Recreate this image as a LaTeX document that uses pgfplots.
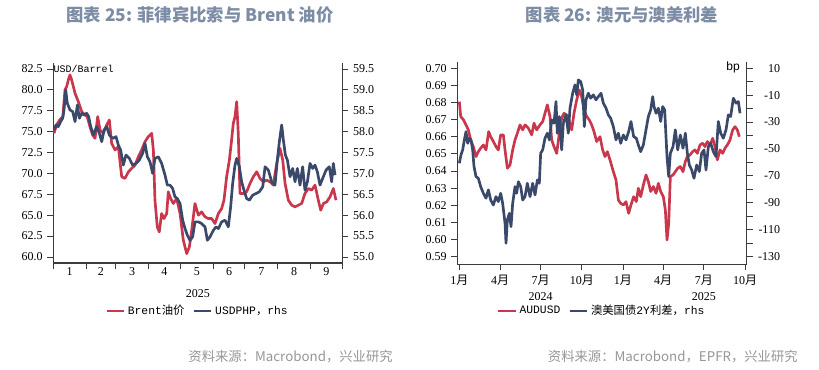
\documentclass[border=0pt]{standalone}
\usepackage{fontspec}
\setmainfont{Liberation Serif}
\newfontfamily\cjk{Noto Sans CJK SC}
\newfontfamily\mono{Liberation Mono}
\newfontfamily\sans{Liberation Sans}
\usepackage{pgfplots}
\usepackage{pgfplotstable}
\pgfplotsset{compat=1.18}
\definecolor{cred}{RGB}{200,55,75}
\definecolor{cnavy}{RGB}{58,72,106}
\definecolor{ctitle}{RGB}{125,140,165}
\definecolor{csrc}{RGB}{150,150,150}
\definecolor{caxis}{RGB}{60,60,60}

\pgfplotstableread{
day val
0.6 74.8
3 75.8
6 76.4
9 76.8
11 80
12.6 80.4
14.2 81.2
15.7 81.8
17.3 81.2
20.5 79.6
23.6 78.6
26.8 77.4
29.9 77.0
32 76.8
34.6 75.6
37.2 74.6
39.4 74.2
41.9 76.8
44.1 75.2
47.2 74.8
50.4 75.8
52.9 76.4
55.1 73.6
58.3 72.8
61.4 73.2
64.6 69.6
67.7 69.4
70.9 70.2
74 70.6
77.2 71.0
80.3 72.0
83.4 72.8
86.6 73.8
89.7 74.4
92.9 74.8
94.5 72.8
96 66.8
98.2 63.6
100.1 63.0
102.3 65.2
104.5 64.6
107.1 65.2
108.6 67.8
110.8 67.0
113.4 66.4
116.5 67.0
119.7 65.2
122.8 62.0
126 60.4
128.5 61.2
130.7 63.2
133.8 66.4
137 65.0
140.1 65.4
143.3 64.8
146.4 64.6
149.6 64.6
152.7 64.0
155.9 65.2
159 65.8
161.2 66.8
163.7 69.6
166.3 71.6
168.4 74.0
170 76.0
171.6 76.8
173.2 78.6
174.7 74.8
176.3 67.6
179.5 67.6
182.6 67.8
185.8 68.8
188.9 69.6
192.1 70.2
195.2 69.4
198.4 69.0
201.5 69.2
204.7 69.0
207.8 68.6
211 71.2
214.1 73.0
216.7 71.6
218.9 68.8
222 66.8
225.2 66.2
228.3 66.0
231.5 66.2
234.6 66.4
237.7 67.6
240.9 68.2
244 68.0
247.2 68.6
250.3 66.8
252.6 65.6
255.1 66.4
258.2 66.6
261.4 67.2
264.5 68.2
267 66.8
}\brent

\pgfplotstableread{
day val
0.6 58.04
2.5 58.16
4.7 58.12
6.9 58.24
8.8 58.32
10.1 58.52
11.7 59.0
13.2 58.68
15.7 58.52
18.3 58.48
20.5 58.24
22.7 58.64
24.6 58.32
26.8 58.44
29 58.40
31.5 58.44
33.4 58.36
35.3 58.12
37.8 57.92
40.9 58.12
43.5 57.96
45.7 57.76
47.9 58.04
50.4 58.12
52.9 57.92
56.1 57.84
59.2 57.88
61.4 57.68
63.6 57.56
66.1 57.20
68.6 57.44
71.8 57.36
74.9 57.20
78.1 57.24
81.2 57.32
84.4 57.48
86.6 57.72
88.8 57.40
91.3 57.28
93.8 57.00
96 57.36
99.2 57.40
102.3 57.24
105.5 56.96
107.7 56.72
110.2 56.72
112.7 56.64
114.9 56.44
117.1 56.40
119.7 56.28
122.2 55.88
124.4 55.68
126.6 55.52
129.1 55.40
131.6 55.48
133.8 55.84
137 55.84
140.1 55.80
143.3 55.72
145.5 55.40
148 55.48
151.2 55.64
153.7 55.72
155.9 55.68
159 55.84
162.2 55.88
165.3 55.72
167.5 56.20
169.4 56.76
171.6 57.20
173.2 57.36
175.7 57.16
177.9 56.80
180.1 56.60
182.6 56.40
185.2 56.36
188.3 56.48
191.5 56.52
194.6 56.56
197.8 56.68
200 57.16
203.1 57.08
206.3 56.80
209.4 56.72
211.6 57.32
213.5 57.76
215.7 58.16
217.3 57.80
219.2 57.44
221.1 57.32
223.6 56.92
226.1 57.12
228.3 56.80
230.5 57.12
233 56.72
235.5 57.16
237.7 56.60
240 56.80
242.5 57.24
245 57.12
247.2 57.20
249.4 57.04
251.9 56.72
254.4 56.88
257.6 57.08
260.7 57.16
262.9 56.80
264.5 57.24
266.1 56.96
}\usdphp

\pgfplotstableread{
day val
0 0.6805
3 0.6718
8.9 0.6700
14.9 0.6669
20.1 0.6640
25.4 0.6581
31.3 0.6542
37.3 0.6484
42.5 0.6513
47.7 0.6533
53.7 0.6552
59.6 0.6523
65.6 0.6630
70.1 0.6600
76.1 0.6572
82 0.6542
87.2 0.6523
92.5 0.6611
98.4 0.6611
102.2 0.6523
107.4 0.6416
113.3 0.6435
119.3 0.6523
124.5 0.6581
129.7 0.6620
135.7 0.6669
141.7 0.6640
146.9 0.6669
154.3 0.6650
161.8 0.6611
167 0.6679
173 0.6640
180.4 0.6669
186.4 0.6688
191.6 0.6737
196.8 0.6786
202.8 0.6718
206.5 0.6581
211.8 0.6542
217.7 0.6503
223.7 0.6620
228.9 0.6708
234.1 0.6737
240.1 0.6727
246 0.6688
251.3 0.6640
256.5 0.6737
262.5 0.6815
268.4 0.6873
273.6 0.6834
278.9 0.6757
284.8 0.6718
290.8 0.6698
296 0.6669
301.2 0.6630
307.2 0.6572
314.6 0.6600
320.6 0.6523
325.8 0.6484
331 0.6513
337 0.6465
344.5 0.6396
350.4 0.6348
355.7 0.6231
360.9 0.6211
366.8 0.6202
372.8 0.6221
378.7 0.6153
383.9 0.6202
389.9 0.6250
395.8 0.6221
400.4 0.6299
405.6 0.6250
411.6 0.6318
417.5 0.6377
422.8 0.6338
428 0.6280
434 0.6309
440 0.6270
445.2 0.6328
450.4 0.6280
456.3 0.6250
460.8 0.6172
464.5 0.5997
468.3 0.6095
472 0.6367
478 0.6377
483.1 0.6396
488.4 0.6416
494.3 0.6426
500.3 0.6396
505.5 0.6455
510 0.6484
516 0.6494
521.9 0.6513
527.1 0.6523
532.4 0.6503
538.3 0.6552
544.3 0.6562
549.5 0.6542
554.7 0.6572
560.7 0.6552
566.7 0.6591
571.9 0.6542
577.1 0.6465
583.1 0.6523
589 0.6503
594.2 0.6533
599.5 0.6552
605.4 0.6581
611.4 0.6640
616.6 0.6659
621.8 0.6640
626.3 0.6600
}\audusd

\pgfplotstableread{
day val
0 -60.6
3.7 -54.4
7.5 -50.7
11.2 -43.3
14.9 -37.1
18.6 -45.8
22.4 -42.0
26.1 -43.3
29.8 -50.7
32.8 -63.1
37.3 -70.5
42.5 -71.8
47.7 -78.0
53.7 -82.9
59.6 -86.6
64.9 -80.4
70.1 -87.9
76.1 -91.6
82 -85.4
87.2 -89.1
92.5 -82.9
96.9 -90.4
102.2 -105.2
104.4 -120.1
107.4 -102.7
111.8 -97.8
115.6 -107.7
119.3 -90.4
124.5 -78.0
128.2 -82.9
132 -74.3
137.2 -78.0
141.7 -87.9
146.9 -85.4
152.1 -75.5
158.1 -85.4
164 -75.5
169.3 -84.2
174.5 -73.0
178.9 -75.5
181.9 -53.2
186.4 -50.7
191.6 -42.0
196.8 -38.3
201.3 -43.3
206.5 -28.4
211.8 -30.9
216.2 -14.8
219.2 -38.3
223.7 -25.9
228.9 -50.7
232.6 -30.9
238.6 -24.7
243.8 -38.3
247.5 -19.7
253.5 -8.6
258.7 -2.4
262.5 -9.8
266.2 1.3
271.4 0.1
275.9 -6.1
279.6 -33.4
283.3 -13.5
288.5 -8.6
293.8 -12.3
299.7 -9.8
305.7 -13.5
310.9 -11.1
316.9 -8.6
322.1 -16.0
328.1 -19.7
333.3 -24.7
338.5 -27.2
344.5 -33.4
350.4 -43.3
355.7 -38.3
360.9 -45.8
366.8 -39.6
372.8 -43.3
378.7 -37.1
383.9 -29.6
389.9 -40.8
395.8 -42.0
400.4 -47.0
405.6 -52.0
411.6 -47.0
417.5 -35.8
422.8 -25.9
428 -21.0
432.5 -11.1
435.5 -18.5
440 -23.5
445.2 -19.7
450.4 -29.6
454.8 -18.5
459.3 -21.0
464.5 -55.7
468.3 -70.5
472 -53.2
478 -48.2
483.1 -35.8
488.4 -50.7
494.3 -39.6
500.3 -49.5
505.5 -38.3
510 -53.2
514.5 -61.9
519.7 -65.6
524.9 -71.8
530.9 -61.9
536.8 -66.8
542 -53.2
547.3 -50.7
551.7 -65.6
557 -48.2
562.2 -45.8
568.1 -52.0
574.1 -55.7
579.3 -29.6
584.6 -38.3
590.5 -42.0
596.5 -35.8
601.7 -24.7
606.9 -25.9
612.9 -12.3
618.8 -16.0
624.1 -14.8
627.8 -23.5
}\spread

\pgfplotsset{
  base/.style={
    scale only axis,
    axis line style={caxis, line width=0.8pt},
    tick style={caxis, line width=0.7pt},
    tick align=outside,
    major tick length=4.5pt,
    minor tick length=4.5pt,
    ticklabel style={font=\fontsize{9}{12}\selectfont},
    label style={font=\fontsize{9}{12}\selectfont},
    /pgf/number format/assume math mode=true,
    legend style={draw=none, fill=none, legend columns=2,
      font=\fontsize{8.5}{10}\selectfont,
      /tikz/every even column/.append style={column sep=4pt}},
    legend image code/.code={\draw[#1, line width=2pt] (0pt,0pt) -- (13pt,0pt);},
  },
  ser/.style={line width=2pt, line join=round},
}

\begin{document}
\begin{tikzpicture}
\useasboundingbox (0,0) rectangle (614.25pt,277.5pt);

% titles
\node[font=\cjk\bfseries\fontsize{13}{14}\selectfont, text=ctitle] at (150pt,266.25pt) {图表 25: 菲律宾比索与 Brent 油价};
\node[font=\cjk\bfseries\fontsize{13}{14}\selectfont, text=ctitle] at (466.5pt,266.25pt) {图表 26: 澳元与澳美利差};
% sources
\node[anchor=east, font=\cjk\fontsize{10}{12}\selectfont, text=csrc, inner sep=0pt] at (294.75pt,9.75pt) {资料来源：Macrobond，兴业研究};
\node[anchor=east, font=\cjk\fontsize{10}{12}\selectfont, text=csrc, inner sep=0pt] at (598.5pt,9.75pt) {资料来源：Macrobond，EPFR，兴业研究};

% ---------- left chart ----------
\begin{axis}[base, at={(40pt,80.25pt)}, anchor=south west,
  width=216.75pt, height=150pt,
  xmin=0, xmax=273, ymin=59.28, ymax=83.22,
  axis x line*=bottom, axis y line*=left,
  xtick={0,31,59,90,120,151,181,212,243,273}, xticklabels={},
  extra x ticks={15.5,45,74.5,105,135.5,166,196.5,227.5,258},
  extra x tick labels={1,2,3,4,5,6,7,8,9},
  extra x tick style={major tick length=0pt},
  ytick={60,62.5,65,67.5,70,72.5,75,77.5,80,82.5},
  yticklabel style={/pgf/number format/.cd, fixed, fixed zerofill, precision=1},
  xlabel={2025}, xlabel style={yshift=1pt},
]
\addplot[ser, cred] table[x=day, y=val] {\brent};
\node[anchor=west, inner sep=0pt, font=\mono\fontsize{7.5}{8}\selectfont] at (rel axis cs:0,0.97) {USD/Barrel};
\end{axis}
\begin{axis}[base, at={(40pt,80.25pt)}, anchor=south west,
  width=216.75pt, height=150pt,
  xmin=0, xmax=273, ymin=54.856, ymax=59.644,
  axis x line=none, axis y line*=right,
  ytick={55,55.5,56,56.5,57,57.5,58,58.5,59,59.5},
  yticklabel style={/pgf/number format/.cd, fixed, fixed zerofill, precision=1},
  legend style={at={(0.5,-0.24)}, anchor=center},
]
\addlegendimage{cred}
\addlegendentry{{\mono Brent}{\cjk 油价}}
\addplot[ser, cnavy] table[x=day, y=val] {\usdphp};
\addlegendentry{{\mono USDPHP}{\cjk ，}{\mono rhs}}
\end{axis}

% ---------- right chart ----------
\begin{axis}[base, at={(343pt,79.3pt)}, anchor=south west,
  width=217pt, height=152pt,
  xmin=-4.5, xmax=642.7, ymin=0.58556, ymax=0.70385,
  axis x line*=bottom, axis y line*=left,
  xtick={0,91,182,274,366,456,547,639},
  xticklabels={1{\cjk 月},4{\cjk 月},{7{\cjk 月}\\2024},10{\cjk 月},1{\cjk 月},4{\cjk 月},{7{\cjk 月}\\2025},10{\cjk 月}},
  xticklabel style={align=center},
  ytick={0.59,0.60,0.61,0.62,0.63,0.64,0.65,0.66,0.67,0.68,0.69,0.70},
  yticklabel style={/pgf/number format/.cd, fixed, fixed zerofill, precision=2},
]
\addplot[ser, cred] table[x=day, y=val] {\audusd};
\end{axis}
\begin{axis}[base, at={(343pt,79.3pt)}, anchor=south west,
  width=217pt, height=152pt,
  xmin=-4.5, xmax=642.7, ymin=-135.65, ymax=14.9,
  axis x line=none, axis y line*=right,
  ytick={-130,-110,-90,-70,-50,-30,-10,10},
  minor ytick={-120,-100,-80,-60,-40,-20,0},
  yticklabel style={text width=17pt, align=right},
  legend style={at={(0.5,-0.23)}, anchor=center},
]
\addlegendimage{cred}
\addlegendentry{{\mono AUDUSD}}
\addplot[ser, cnavy] table[x=day, y=val] {\spread};
\addlegendentry{{\cjk 澳美国债}{\mono 2Y}{\cjk 利差，}{\mono rhs}}
\node[anchor=east, inner sep=0pt, font=\sans\fontsize{9}{10}\selectfont] at (rel axis cs:0.977,0.969) {bp};
\end{axis}
\end{tikzpicture}
\end{document}
